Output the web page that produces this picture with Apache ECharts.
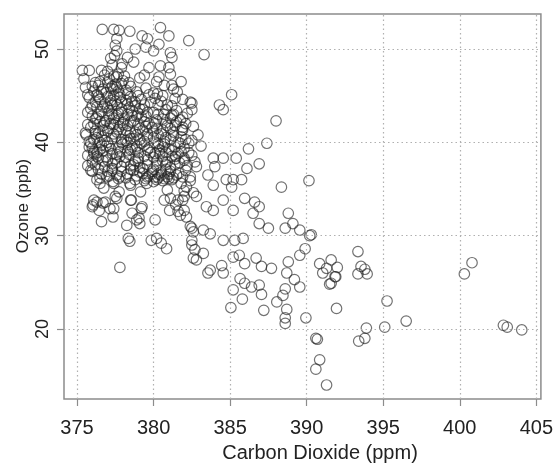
<!DOCTYPE html>
<html>
<head>
<meta charset="utf-8">
<script src="https://cdn.jsdelivr.net/npm/echarts@6/dist/echarts.min.js"></script>
<style>
html,body{margin:0;padding:0;background:#fff;}
#chart{width:556px;height:466px;}
</style>
</head>
<body>
<div id="chart"></div>
<script>
// Tick labels
const xTicks = [375, 380, 385, 390, 395, 400, 405];
const yTicks = [20, 30, 40, 50];

const upperPoints = [
[376.65,52.1],[377.4,52.1],[377.75,52.0],[378.45,51.9],[377.6,51.1],[377.5,50.4],[377.6,49.8],[377.45,49.3],
[379.25,51.4],[379.6,51.1],[380.45,52.3],[381.0,51.4],[382.3,50.9],[380.35,50.5],[379.5,50.2],[380.0,49.8],
[378.8,50.0],[381.1,49.6],[381.2,49.1],[378.3,49.1],[378.7,48.6],[377.95,48.4],[375.35,47.7],[375.8,47.7],
[375.45,46.8],[375.55,45.9],[376.2,46.4],[380.45,48.2],[381.0,48.0],[379.7,48.0],[380.35,47.0],[381.1,47.3],
[380.7,46.1],[381.2,46.1],[381.55,45.4],[380.25,45.2],[382.4,44.3],[381.3,43.0],[381.9,42.7],[383.3,49.4],
[385.1,45.1],[384.3,44.0],[384.55,43.5],[382.5,44.2],[382.5,43.5],[388.0,42.3],[387.4,39.9],[386.2,39.3],
[383.1,39.6],[382.5,40.2],[385.4,38.3],[386.9,37.7],[386.1,37.2],[390.15,35.9],[388.35,35.2],[385.75,36.0],
[385.2,36.0],[384.55,38.3],[383.9,38.3],[382.3,39.9],[381.9,41.3],[382.7,37.9],[384.0,37.4],[383.55,36.5],
[383.9,35.4],[384.75,36.0],[385.1,35.2],[385.95,34.0],[386.6,33.6],[386.9,33.1],[388.8,32.4],[382.15,35.2],
[381.9,33.8],[382.8,34.2],[383.45,33.1],[383.9,32.7],[385.2,32.7],[384.55,33.8]
];
const lowerPoints = [
[389.1,31.3],[388.6,30.8],[389.55,30.6],[390.3,30.1],[390.2,30.0],[389.9,28.6],[389.55,27.9],[388.8,27.2],
[390.85,27.0],[391.3,26.5],[387.5,30.8],[386.9,31.3],[386.5,32.4],[385.85,29.7],[385.3,29.5],[384.55,29.5],
[383.7,30.2],[383.25,30.6],[382.6,30.4],[382.7,28.5],[383.25,28.1],[384.45,26.8],[385.2,27.7],[385.6,27.9],
[385.95,27.0],[386.7,27.6],[387.05,26.7],[387.7,26.5],[383.7,26.3],[382.8,27.4],[383.55,26.0],[384.55,26.0],
[385.65,25.4],[385.95,24.9],[386.4,24.5],[386.9,24.7],[385.2,24.2],[387.05,23.7],[385.8,23.2],[385.05,22.3],
[387.2,22.0],[388.05,22.9],[388.45,23.6],[388.6,24.3],[388.7,22.1],[388.6,21.2],[388.6,20.6],[389.55,24.5],
[389.2,25.3],[388.7,26.0],[389.95,21.2],[390.6,19.0],[390.7,18.9],[390.85,16.7],[390.6,15.7],[391.3,14.0],
[391.95,22.2],[391.5,24.8],[391.85,25.6],[391.05,26.0],[393.35,28.3],[393.55,26.7],[393.35,25.9],[393.8,26.4],
[393.95,25.9],[391.6,27.4],[392.0,26.6],[391.9,25.6],[391.6,24.9],[395.25,23.0],[396.5,20.85],[395.1,20.2],
[393.9,20.1],[393.8,19.0],[393.4,18.7],[400.8,27.1],[400.3,25.9],[402.85,20.4],[403.1,20.2],[404.05,19.9]
];
const edgePoints = [
[375.55,41.0],[376.1,42.0],[376.0,36.9],[376.0,37.8],[376.3,38.5],[376.1,39.0],[376.3,36.0],[376.95,36.3],
[377.3,37.0],[376.75,35.1],[377.4,35.6],[377.75,34.7],[378.5,35.4],[377.6,34.0],[378.5,33.8],[377.4,32.9],
[376.85,33.6],[376.1,33.8],[376.0,33.1],[376.45,32.7],[379.25,33.1],[378.6,32.4],[379.15,34.7],[379.6,36.3],
[380.9,34.9],[380.7,33.8],[381.1,34.0],[381.45,33.3],[382.0,32.7],[382.0,34.2],[382.4,36.3],[381.65,36.7],
[382.0,38.1],[381.45,38.5],[381.75,39.9],[381.85,41.3],[381.75,42.4],[381.2,42.9],[382.2,43.1],[376.5,35.6],
[376.3,33.6],[376.05,33.3],[376.7,33.5],[377.15,32.9],[377.5,34.2],[378.55,33.8],[379.2,32.9],[378.9,31.7],
[379.1,31.3],[380.1,31.7],[378.25,31.1],[377.35,32.0],[376.6,31.5],[378.35,29.7],[378.45,29.4],[379.85,29.5],
[380.2,29.7],[380.5,29.2],[380.85,28.6],[377.8,26.6],[382.5,29.5],[382.6,27.6],[381.05,32.7],[381.6,32.6],
[381.6,33.8],[382.15,32.0],[382.5,30.8],[379.55,35.6],[378.7,37.0],[377.8,36.3],[377.35,35.8],[378.45,35.6],
[381.75,32.2],[382.4,31.0],[382.5,29.0],[379.05,31.9]
];
const corePoints = [
[375.7,37.5],[376.0,38.2],[375.8,39.5],[376.1,40.3],[375.6,40.8],[375.9,41.6],[376.2,42.5],[375.7,43.2],[376.0,44.0],[375.8,44.8],[376.1,45.5],[376.2,41.2],[375.9,39.9],[376.1,38.8],
[376.4,37.1],[376.7,38.0],[376.3,38.9],[376.6,39.7],[376.8,40.2],[376.4,41.0],[376.7,41.8],[376.3,42.6],[376.6,43.3],[376.8,44.1],[376.4,44.9],[376.7,45.7],[376.5,46.5],[376.8,47.2],[376.3,43.8],[376.6,40.6],[376.5,39.2],[376.8,42.1],[376.3,45.1],[376.6,36.6],
[377.0,36.9],[377.3,37.7],[376.9,38.4],[377.2,39.3],[377.0,40.0],[377.4,40.9],[377.1,41.5],[376.9,42.3],[377.3,43.0],[377.0,43.7],[377.2,44.5],[376.9,45.3],[377.3,46.0],[377.1,46.8],[377.0,47.6],[377.3,48.3],[377.2,44.2],[377.4,41.9],[376.9,39.6],[377.1,42.8],[377.4,45.7],
[377.6,36.5],[377.9,37.4],[377.5,38.2],[377.8,39.0],[378.0,39.8],[377.5,40.6],[377.7,41.4],[378.0,42.1],[377.6,42.9],[377.9,43.6],[377.5,44.4],[377.8,45.1],[377.6,45.9],[378.0,46.6],[377.7,47.3],[377.9,48.0],[377.7,43.1],[377.9,40.3],[377.6,38.7],[378.0,41.9],[377.8,44.8],[377.5,46.2],
[378.2,36.2],[378.5,37.1],[378.1,37.9],[378.4,38.7],[378.6,39.5],[378.2,40.2],[378.5,41.0],[378.3,41.8],[378.1,42.5],[378.6,43.4],[378.3,44.1],[378.5,44.9],[378.2,45.6],[378.4,46.4],[378.1,47.1],[378.3,39.1],[378.6,42.9],[378.4,40.7],[378.2,44.5],
[378.8,36.0],[379.1,36.8],[378.7,37.6],[379.0,38.3],[378.8,39.2],[379.2,39.9],[378.9,40.8],[379.1,41.5],[378.7,42.3],[379.0,43.1],[378.8,43.9],[379.2,44.6],[378.9,45.4],[379.1,46.9],[378.7,40.4],[379.0,38.0],[379.2,42.7],
[379.4,35.9],[379.7,36.4],[379.3,37.2],[379.6,38.1],[379.8,38.9],[379.4,39.7],[379.6,40.5],[379.3,41.3],[379.7,42.0],[379.5,42.8],[379.3,43.5],[379.8,44.3],[379.5,45.8],[379.4,47.2],[379.7,39.4],[379.5,41.7],[379.9,36.9],
[380.0,35.8],[380.3,36.2],[379.9,36.7],[380.2,37.5],[380.0,38.4],[380.4,39.2],[380.1,40.0],[380.3,40.8],[379.9,41.6],[380.2,42.4],[380.0,43.2],[380.3,44.0],[380.1,44.7],[380.2,46.5],[380.4,38.8],[380.0,41.2],[380.2,36.0],[380.3,39.6],
[380.6,35.9],[380.9,36.3],[380.5,36.8],[380.8,37.6],[380.6,38.5],[381.0,39.3],[380.7,40.1],[380.5,40.9],[380.9,41.8],[380.6,42.5],[380.8,43.5],[380.5,44.4],[381.0,36.1],[380.7,39.8],[380.9,37.9],[380.6,45.0],
[381.2,36.0],[381.5,36.5],[381.1,37.3],[381.4,38.2],[381.2,39.1],[381.6,40.0],[381.3,40.7],[381.1,41.5],[381.5,42.2],[381.2,43.9],[381.4,44.7],[381.3,45.7],[381.6,38.8],[381.1,36.9],
[381.8,35.6],[382.1,37.0],[381.7,37.8],[382.0,39.4],[381.8,40.6],[382.1,42.0],[381.9,44.6],[381.8,46.5],[382.0,34.8],
[382.4,35.9],[382.8,37.4],[382.5,38.6],[382.9,40.8],[382.6,41.7],[382.6,34.6]
];
const corePoints2 = [
[375.9,37.0],[376.2,37.6],[375.7,38.6],[376.0,39.4],[375.8,40.1],[376.2,40.9],[375.7,41.9],[376.0,42.8],[375.9,43.6],[376.2,44.3],[375.7,45.1],[376.0,46.0],
[376.5,36.2],[376.8,37.4],[376.4,38.3],[376.7,39.1],[376.5,40.0],[376.3,40.5],[376.7,41.3],[376.5,42.2],[376.4,43.0],[376.7,43.8],[376.5,44.6],[376.6,45.4],[376.4,46.1],[376.6,47.7],
[377.1,36.4],[377.3,37.2],[377.0,38.1],[377.3,38.8],[377.1,39.6],[377.3,40.4],[377.0,41.2],[377.2,42.0],[377.4,42.6],[377.1,43.4],[377.3,44.0],[377.0,44.9],[377.4,45.0],[377.2,45.8],[377.0,46.4],[377.4,47.1],[377.2,49.0],
[377.7,36.1],[377.9,36.9],[377.6,37.8],[377.8,38.5],[377.7,39.4],[377.9,40.0],[377.6,41.1],[377.8,41.7],[377.7,42.4],[377.9,43.2],[377.6,44.0],[377.9,44.3],[377.7,45.5],[377.9,46.3],[377.6,47.0],
[378.3,36.6],[378.5,37.5],[378.2,38.4],[378.5,39.2],[378.3,40.0],[378.5,40.4],[378.2,41.3],[378.5,42.2],[378.3,43.0],[378.4,43.7],[378.6,44.4],[378.3,45.2],[378.5,46.0],
[378.9,36.4],[379.1,37.3],[378.8,38.0],[379.0,38.9],[378.9,39.6],[379.1,40.3],[378.8,41.1],[379.0,41.9],[378.9,42.8],[379.1,43.6],[378.8,44.3],[379.0,45.0],
[379.5,36.1],[379.3,36.7],[379.6,37.6],[379.4,38.5],[379.6,39.2],[379.4,40.1],[379.6,40.9],[379.4,42.2],[379.6,43.2],[379.4,44.0],[379.7,45.1],
[380.1,36.3],[380.3,36.6],[380.0,37.1],[380.2,38.0],[380.1,38.8],[380.3,39.9],[380.0,40.5],[380.2,41.5],[380.1,42.0],[380.3,43.0],[380.0,45.3],
[380.7,36.1],[380.5,36.5],[380.8,37.1],[380.6,38.0],[380.8,38.9],[380.6,39.5],[380.8,40.5],[380.6,41.3],[380.8,42.1],[380.7,43.0],[380.9,44.0],
[381.3,36.2],[381.0,36.6],[381.4,37.6],[381.2,38.5],[381.4,39.5],[381.1,40.3],[381.3,41.1],[381.4,41.8],[381.1,42.6],[381.5,43.4],
[381.9,36.3],[382.0,38.3],[381.8,39.0],[382.1,40.3],[381.9,41.6],[382.2,37.5],[382.3,38.9]
];

const allPoints = upperPoints.concat(lowerPoints, edgePoints, corePoints, corePoints2);

const chart = echarts.init(document.getElementById('chart'), null, {renderer: 'canvas'});
const FONT = 'Liberation Sans, Arial, Helvetica, sans-serif';

chart.setOption({
  animation: false,
  backgroundColor: '#ffffff',
  grid: {left: 64, right: 14, top: 14, bottom: 67, show: true, borderColor: '#8c8c8c', borderWidth: 1.5, backgroundColor: 'transparent'},
  xAxis: {
    type: 'value', min: 374.15, max: 405.3,
    axisLine: {show: false},
    splitLine: {show: false},
    axisTick: {show: true, length: 7, lineStyle: {color: '#8c8c8c', width: 1.2}, customValues: xTicks},
    axisLabel: {customValues: xTicks, margin: 19, fontSize: 20, color: '#222', fontFamily: FONT}
  },
  yAxis: {
    type: 'value', min: 12.5, max: 53.75,
    axisLine: {show: false},
    splitLine: {show: false},
    axisTick: {show: true, length: 7, lineStyle: {color: '#8c8c8c', width: 1.2}, customValues: yTicks},
    axisLabel: {customValues: yTicks, rotate: 90, margin: 12, fontSize: 18, color: '#222', fontFamily: FONT}
  },
  graphic: [
    {type: 'text', style: {x: 320, y: 453, text: 'Carbon Dioxide (ppm)', fontSize: 20, fontFamily: FONT, fill: '#222', align: 'center', verticalAlign: 'middle'}},
    {type: 'text', x: 23, y: 206, rotation: Math.PI / 2, style: {x: 0, y: 0, text: 'Ozone (ppb)', fontSize: 17, fontFamily: FONT, fill: '#222', align: 'center', verticalAlign: 'middle'}}
  ],
  series: [
    {
      type: 'scatter', data: [], silent: true, z: 1,
      markLine: {
        silent: true, symbol: ['none', 'none'], label: {show: false}, animation: false,
        lineStyle: {type: [1.5, 3], color: '#b0b0b0', width: 1.2},
        data: xTicks.map(v => ({xAxis: v})).concat(yTicks.map(v => ({yAxis: v})))
      }
    },
    {
      type: 'scatter', data: allPoints, symbol: 'circle', symbolSize: 10.5, z: 3,
      itemStyle: {color: 'rgba(0,0,0,0)', borderColor: 'rgba(35,35,35,0.8)', borderWidth: 1.2}
    }
  ]
});
</script>
</body>
</html>
